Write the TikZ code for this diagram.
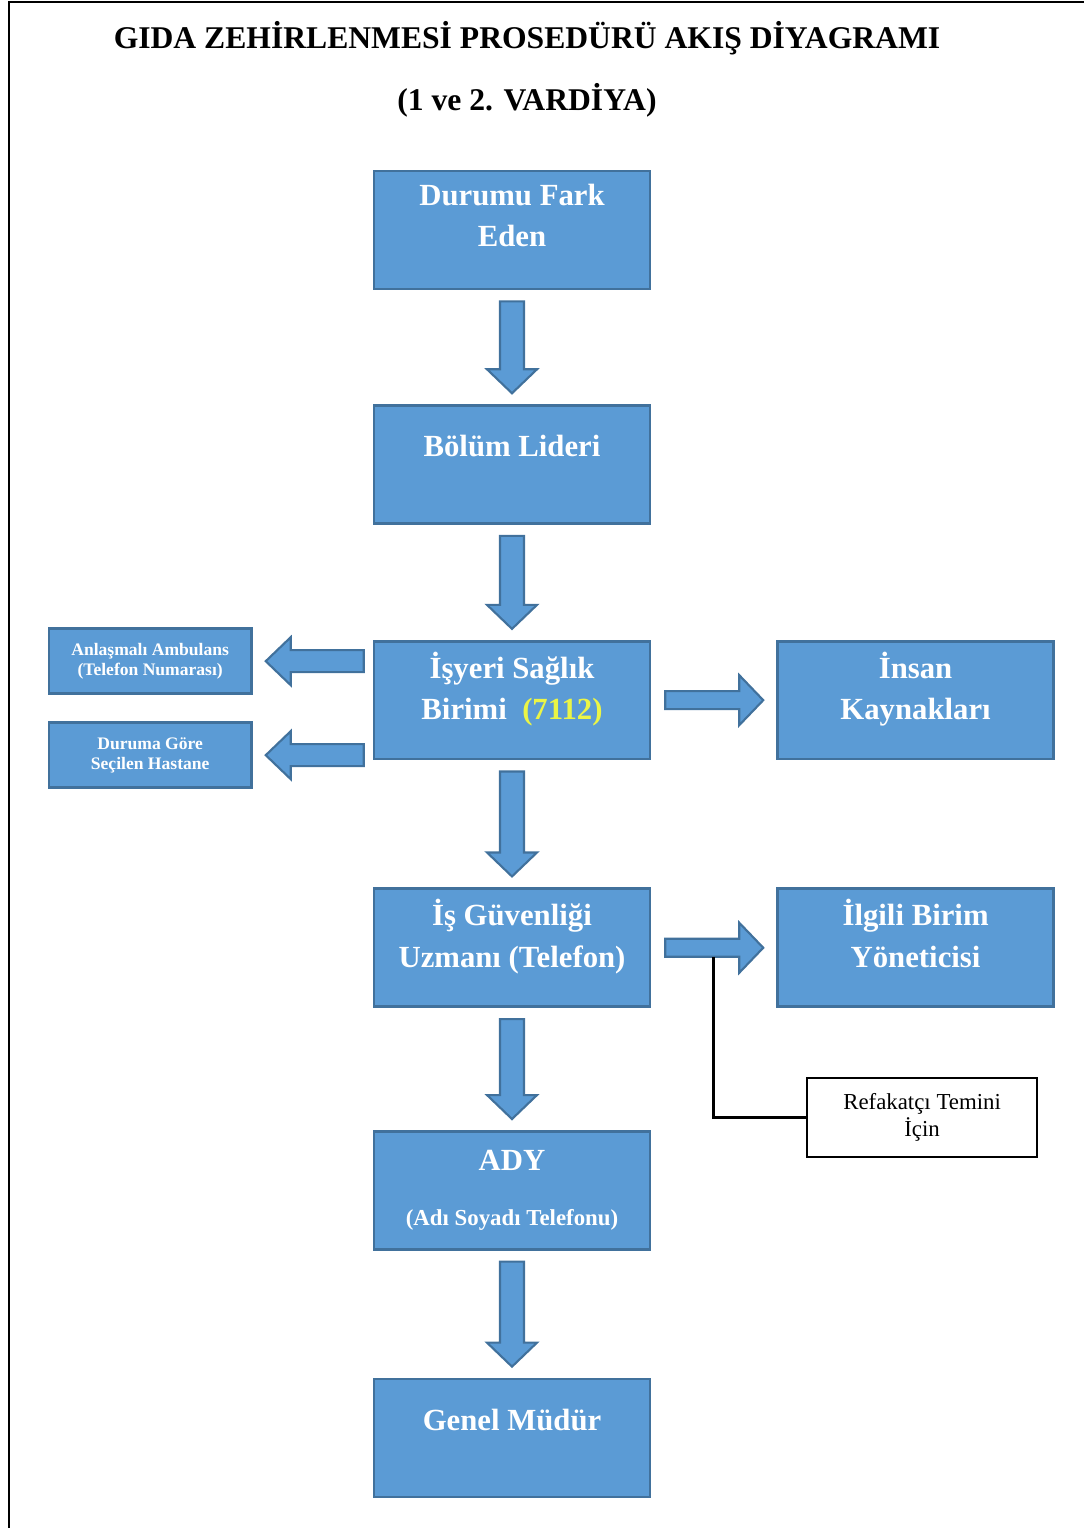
\documentclass[tikz,border=0pt]{standalone}
\usepackage{fontspec}
\setmainfont{Liberation Serif}
\usepackage{tikz}
\usetikzlibrary{positioning,calc}
\usepackage{xcolor}

\definecolor{boxblue}{RGB}{91,155,213}
\definecolor{boxline}{RGB}{65,113,156}
\definecolor{numyellow}{RGB}{235,245,70}

% block arrows between two boxes
\newcommand{\downflow}[2]{%
  \draw[flowarr] ($(#1.south)+(-12,11)$) -- ($(#2.north)+(-12,-35)$) -- ($(#2.north)+(-25,-35)$)
    -- ($(#2.north)+(0,-11)$) -- ($(#2.north)+(25,-35)$) -- ($(#2.north)+(12,-35)$)
    -- ($(#1.south)+(12,11)$) -- cycle;}
\newcommand{\rightflow}[2]{%
  \draw[flowarr] ($(#1.east)+(14,-9)$) -- ($(#2.west)+(-37,-9)$) -- ($(#2.west)+(-37,-25)$)
    -- ($(#2.west)+(-13,0)$) -- ($(#2.west)+(-37,25)$) -- ($(#2.west)+(-37,9)$)
    -- ($(#1.east)+(14,9)$) -- cycle;}
\newcommand{\leftflow}[2]{%
  \draw[flowarr] ($(#1.west |- #2.east)+(-9,-11)$) -- ($(#2.east)+(38,-11)$) -- ($(#2.east)+(38,-24)$)
    -- ($(#2.east)+(13,0)$) -- ($(#2.east)+(38,24)$) -- ($(#2.east)+(38,11)$)
    -- ($(#1.west |- #2.east)+(-9,11)$) -- cycle;}

\begin{document}
\begin{tikzpicture}[
    x=0.02cm, y=-0.02cm,
    bluebox/.style={rectangle,draw=boxline,line width=1.5pt,fill=boxblue,align=center,
                    minimum width=5.52cm,minimum height=2.36cm,text=white,
                    font=\bfseries\fontsize{17.5}{23.5}\selectfont},
    smallbox/.style={bluebox,minimum width=4.05cm,minimum height=1.3cm,
                     font=\bfseries\fontsize{10}{11.5}\selectfont},
    notebox/.style={rectangle,draw,line width=1pt,align=center,fill=white,
                    minimum width=4.6cm,minimum height=1.58cm,
                    font=\fontsize{13}{15}\selectfont},
    flowarr/.style={fill=boxblue,draw=boxline,line width=1.2pt},
    heading/.style={font=\bfseries\fontsize{18}{22}\selectfont}
  ]
    \useasboundingbox (0,0) rectangle (1084,1528);
    \draw[line width=1.6pt] (9,1528) -- (9,2) -- (1084,2);

    \node[heading] (title) at (527,38) {GIDA ZEHİRLENMESİ PROSEDÜRÜ AKIŞ DİYAGRAMI};
    \node[heading] (shift) at (527,100) {(1 ve 2. VARDİYA)};

    \node[bluebox,text depth=16.5pt] (notice) at (512,230) {Durumu Fark\\Eden};
    \node[bluebox,text depth=21pt,below=2.28cm of notice] (leader) {Bölüm Lideri};
    \node[bluebox,text depth=16.5pt,below=2.3cm of leader] (health)
        {İşyeri Sağlık\\Birimi\ \ \textcolor{numyellow}{(7112)}};
    \node[bluebox,text depth=16.5pt,right=2.5cm of health] (hr) {İnsan\\Kaynakları};
    \node[smallbox,left=2.4cm of health,yshift=0.78cm] (ambulance) {Anlaşmalı Ambulans\\(Telefon Numarası)};
    \node[smallbox,left=2.4cm of health,yshift=-1.1cm] (hospital) {Duruma Göre\\Seçilen Hastane};
    \node[bluebox,text depth=16.5pt,below=2.54cm of health] (safety) {İş Güvenliği\\Uzmanı (Telefon)};
    \node[bluebox,text depth=16.5pt,right=2.5cm of safety] (manager) {İlgili Birim\\Yöneticisi};
    \node[notebox,below=1.38cm of manager,xshift=0.13cm] (escort) {Refakatçı Temini\\İçin};
    \node[bluebox,below=2.44cm of safety] (ady)
        {ADY\\[8pt]\fontsize{13}{15}\selectfont(Adı Soyadı Telefonu)};
    \node[bluebox,text depth=21pt,below=2.54cm of ady] (gm) {Genel Müdür};

    \downflow{notice}{leader}
    \downflow{leader}{health}
    \downflow{health}{safety}
    \downflow{safety}{ady}
    \downflow{ady}{gm}
    \rightflow{health}{hr}
    \rightflow{safety}{manager}
    \leftflow{health}{ambulance}
    \leftflow{health}{hospital}

    \coordinate (tap) at ($(safety.east)!0.5!(manager.west)+(0,9)$);
    \draw[line width=1.5pt] (tap) |- (escort.west);
  \end{tikzpicture}
\end{document}
